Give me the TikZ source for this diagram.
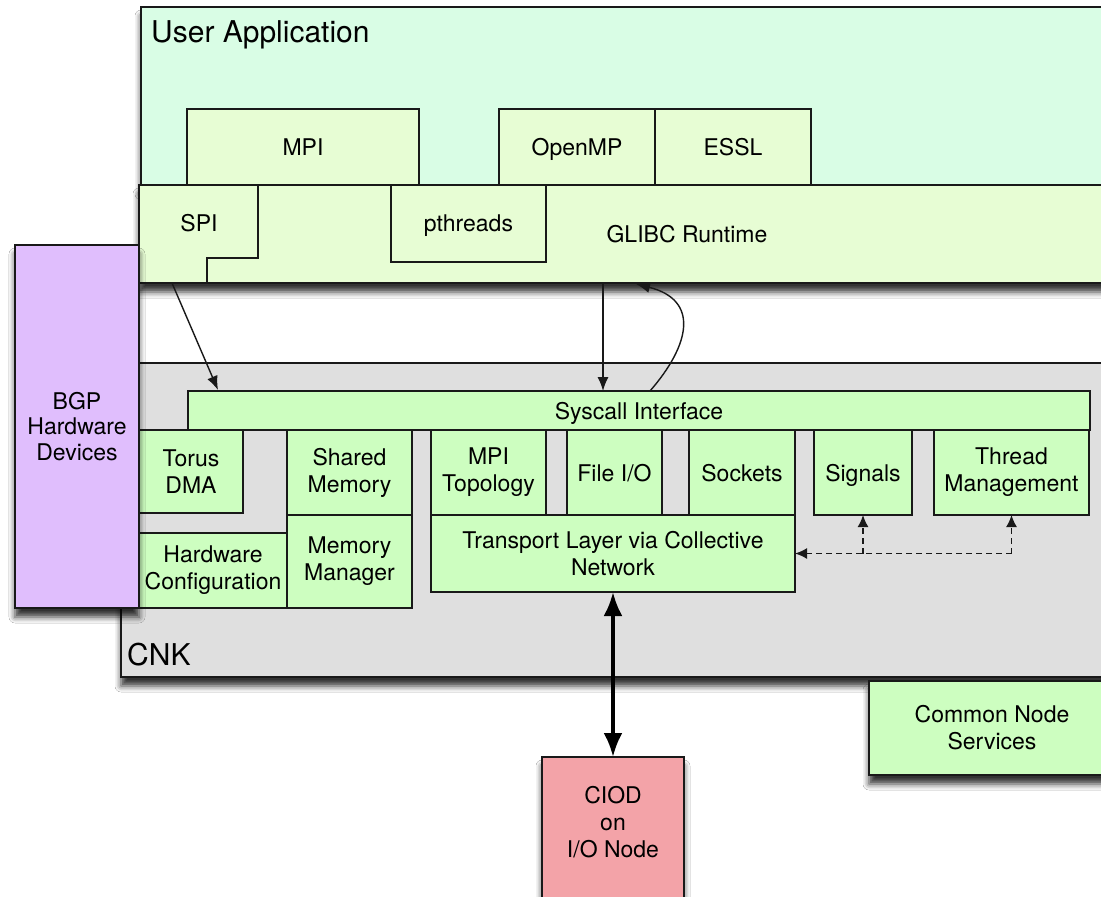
\documentclass[tikz,border=0pt]{standalone}
\usepackage{fontspec}
\setmainfont{TeX Gyre Heros}
\usetikzlibrary{arrows.meta,shadows.blur}

\definecolor{appfill}{RGB}{217,253,229}
\definecolor{libfill}{RGB}{231,253,212}
\definecolor{kernfill}{RGB}{205,254,192}
\definecolor{cnkfill}{RGB}{223,223,223}
\definecolor{hwfill}{RGB}{224,190,253}
\definecolor{iofill}{RGB}{243,163,168}
\definecolor{edge}{RGB}{25,25,25}

\newcommand\boxfont{\fontsize{23}{27}\selectfont}
\newcommand\headfont{\fontsize{30}{36}\selectfont}

\tikzset{
  span/.style n args={4}{anchor=north west, at={(#1,#2)},
    minimum width={(#3-#1)*1pt}, minimum height={(#4-#2)*1pt}},
  blk/.style={draw=edge, line width=1.8pt, inner sep=0pt, outer sep=0pt,
    align=center, font=\boxfont, text=black},
  oneline/.style={text depth=0pt},
  shade/.style={blur shadow={shadow xshift=0pt, shadow yshift=-9pt,
    shadow blur radius=6pt, shadow opacity=80}},
  appbox/.style={blk, fill=appfill, shade},
  libbox/.style={blk, fill=libfill},
  kernbox/.style={blk, fill=kernfill},
  label/.style={inner sep=0pt, align=center, font=\boxfont, text=black},
  head/.style={inner sep=0pt, anchor=west, font=\headfont, text=black},
  thinarrow/.style={draw=edge, line width=1.4pt, -{Latex[length=14pt,width=11pt]}},
  dasharrow/.style={draw=edge, line width=1.6pt, dash pattern=on 6pt off 4pt,
    -{Latex[length=12pt,width=11pt]}},
  bigarrow/.style={draw=black, line width=3.8pt,
    {Latex[length=24pt,width=19pt]}-{Latex[length=24pt,width=19pt]}},
}

\begin{document}
\begin{tikzpicture}[x=1pt,y=-1pt]
\fill[white] (0,0) rectangle (1101,897);
\useasboundingbox (0,0) rectangle (1101,897);
\clip (0,0) rectangle (1101,897);

% user space
\node[appbox, span={141}{7}{1130}{185}] (app) {};
\node[head] (applbl) at (151,35) {User Application};
\node[libbox, oneline, span={187}{109}{419}{185}] (mpi) {MPI};
\node[libbox, oneline, span={499}{109}{655}{185}] (openmp) {OpenMP};
\node[libbox, oneline, span={655}{109}{811}{185}] (essl) {ESSL};

% runtime library layer
\node[libbox, shade, span={139}{185}{1130}{283}] (glibc) {};
\node[label, text depth=0pt] (glibclbl) at (687,234) {GLIBC Runtime};
\draw[edge, line width=1.8pt] (258,185) -- (258,258) -- (207,258) -- (207,283);
\node[label, text depth=0pt] (spi) at (199,223) {SPI};
\node[libbox, oneline, span={391}{185}{546}{262}] (pthreads) {pthreads};

% compute node kernel
\node[blk, fill=cnkfill, shade, span={121}{363}{1130}{677}] (cnk) {};
\node[head] (cnklbl) at (127,655) {CNK};
\node[kernbox, oneline, span={188}{391}{1090}{430}] (sys) {Syscall Interface};
\node[kernbox, span={139}{430}{243}{513}] (torus) {Torus\\DMA};
\node[kernbox, span={287}{430}{412}{515}] (shm) {Shared\\Memory};
\node[kernbox, span={287}{515}{412}{608}] (memmgr) {Memory\\Manager};
\node[kernbox, span={139}{533}{287}{608}] (hwconf) {Hardware\\Configuration};
\node[kernbox, span={431}{430}{546}{515}] (mpitopo) {MPI\\Topology};
\node[kernbox, oneline, span={567}{430}{662}{515}] (fileio) {File I/O};
\node[kernbox, oneline, span={689}{430}{795}{515}] (sockets) {Sockets};
\node[kernbox, span={431}{515}{795}{592}] (transport) {Transport Layer via Collective\\Network};
\node[kernbox, oneline, span={814}{430}{912}{515}] (signals) {Signals};
\node[kernbox, span={934}{430}{1089}{515}] (thread) {Thread\\Management};

% hardware, services and I/O node
\node[blk, fill=hwfill, shade, span={15}{245}{139}{608}, font=\fontsize{23}{25.5}\selectfont] (bgp) {BGP\\Hardware\\Devices};
\node[kernbox, shade, span={869}{681}{1115}{775}] (cns) {Common Node\\Services};
\node[blk, fill=iofill, shade, span={542}{757}{684}{930}] (ciod) {};
\node[label] (ciodlbl) at (613,822) {CIOD\\on\\I/O Node};

% connectors
\coordinate (spiout) at (172,283);
\coordinate (spiin) at (218,390);
\draw[thinarrow] (spiout) -- (spiin);

\coordinate (libdown) at (603,283);
\draw[thinarrow] (libdown) -- (libdown |- sys.north);

\coordinate (sysret) at (650,391);
\coordinate (libret) at (636,284);
\draw[thinarrow] (sysret) .. controls (690,345) and (700,300) .. (libret);

\draw[bigarrow] (transport.south) -- (ciod.north);

\coordinate (tjoin) at (thread.south |- transport.east);
\coordinate (sjoin) at (signals.south |- transport.east);
\draw[dasharrow] (tjoin) -- (transport.east);
\draw[dasharrow] (tjoin) -- (thread.south);
\draw[dasharrow] (sjoin) -- (signals.south);
\end{tikzpicture}
\end{document}
